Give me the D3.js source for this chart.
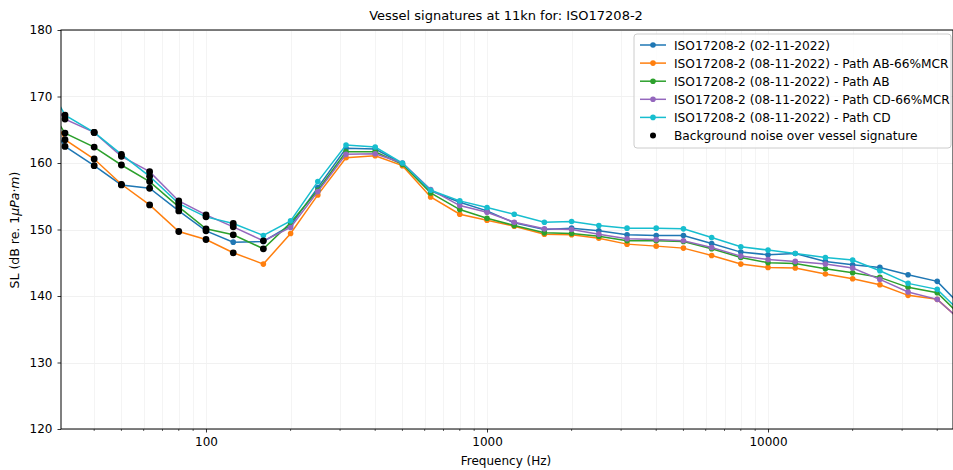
<!DOCTYPE html>
<html>
<head>
<meta charset="utf-8">
<script src="https://cdn.jsdelivr.net/npm/d3@7"></script>
<style>
  body { margin: 0; background: #fff; }
  svg { font-family: "DejaVu Sans", sans-serif; }
</style>
</head>
<body>
<div id="container"></div>
<script>
// third-octave band centres (Hz)
const freqs = [25, 31.5, 40, 50, 63, 80, 100, 125, 160, 200, 250, 315, 400, 500, 630, 800, 1000, 1250, 1600, 2000,
    2500, 3150, 4000, 5000, 6300, 8000, 10000, 12500, 16000, 20000, 25000, 31500, 40000, 50000];

const sl_0211 = [168.5, 162.5, 159.6, 156.7, 156.2, 152.8, 149.8, 148.1, 148.2, 150.6, 156.3, 162.2, 162.1, 159.9, 155.8, 154.1, 152.8, 151.0, 150.0, 150.2,
    149.8, 149.2, 149.1, 149.1, 147.9, 146.6, 146.2, 146.4, 145.2, 144.7, 144.3, 143.2, 142.2, 138.0];
const sl_AB66 = [171.5, 163.5, 160.6, 156.8, 153.7, 149.7, 148.5, 146.5, 144.8, 149.4, 155.2, 160.8, 161.1, 159.6, 154.9, 152.3, 151.4, 150.5, 149.3, 149.2,
    148.7, 147.8, 147.5, 147.2, 146.1, 144.8, 144.3, 144.2, 143.3, 142.6, 141.7, 140.1, 139.5, 135.8];
const sl_AB = [171.0, 164.5, 162.4, 159.7, 157.2, 153.4, 150.1, 149.2, 147.1, 151.0, 155.9, 161.7, 161.7, 159.8, 155.5, 153.0, 151.7, 150.6, 149.5, 149.4,
    149.0, 148.3, 148.3, 148.2, 147.1, 145.8, 145.0, 144.9, 144.1, 143.5, 142.8, 141.3, 140.5, 136.5];
const sl_CD66 = [172.0, 166.6, 164.6, 161.0, 158.7, 154.3, 152.2, 150.4, 148.3, 150.3, 155.7, 161.3, 161.4, 160.0, 156.0, 153.6, 152.6, 151.1, 150.1, 150.0,
    149.3, 148.6, 148.5, 148.3, 147.3, 146.0, 145.5, 145.2, 144.8, 144.2, 142.5, 140.6, 139.5, 135.8];
const sl_CD = [175.0, 167.2, 164.6, 161.3, 158.0, 153.9, 151.9, 150.9, 149.1, 151.3, 157.2, 162.7, 162.4, 160.0, 155.9, 154.3, 153.3, 152.3, 151.1, 151.2,
    150.6, 150.2, 150.2, 150.1, 148.8, 147.4, 146.9, 146.4, 145.8, 145.4, 143.8, 141.9, 141.0, 137.0];

const labels = ["ISO17208-2 (02-11-2022)",
    "ISO17208-2 (08-11-2022) - Path AB-66%MCR",
    "ISO17208-2 (08-11-2022) - Path AB",
    "ISO17208-2 (08-11-2022) - Path CD-66%MCR",
    "ISO17208-2 (08-11-2022) - Path CD"];
const colors = ["#1f77b4", "#ff7f0e", "#2ca02c", "#9467bd", "#17becf"];

// bands where background noise is above the vessel signature
const noise_0211 = [31.5, 40, 50, 63, 80, 100];
const noise_AB66 = [31.5, 40, 50, 63, 80, 100, 125];
const noise_AB = [31.5, 40, 50, 63, 80, 100, 125, 160];
const noise_CD66 = [31.5, 40, 50, 63, 80, 100, 125, 160];
const noise_CD = [31.5, 40, 50, 63, 80, 100, 125];

const yTicks = [120, 130, 140, 150, 160, 170, 180];
const xTicks = [100, 1000, 10000];

const series = [sl_0211, sl_AB66, sl_AB, sl_CD66, sl_CD].map((vals, i) => ({
    label: labels[i],
    color: colors[i],
    points: freqs.map((f, j) => ({ f: f, v: vals[j] }))
}));
const noise = [noise_0211, noise_AB66, noise_AB, noise_CD66, noise_CD];

const W = 953, H = 470;
const L = 61, R = 953, T = 30, B = 429;

const x = d3.scaleLog().domain([30.48, 45150]).range([L, 952]);
const y = d3.scaleLinear().domain([120, 180]).range([B, T]);

const svg = d3.select("#container").append("svg")
    .attr("width", W).attr("height", H);

svg.append("defs").append("clipPath").attr("id", "clip")
    .append("rect").attr("x", L).attr("y", T).attr("width", R - L).attr("height", B - T);

// minor ticks on the log axis
const minorTicks = [];
[10, 100, 1000, 10000].forEach(d => {
    for (let k = 2; k <= 9; k++) {
        const v = d * k;
        if (v > x.domain()[0] && v < x.domain()[1]) minorTicks.push(v);
    }
});

// grid (very faint)
const grid = svg.append("g");
grid.selectAll(".gx").data(minorTicks.concat(xTicks)).enter().append("line")
    .attr("x1", d => Math.round(x(d)) + 0.5).attr("x2", d => Math.round(x(d)) + 0.5)
    .attr("y1", T).attr("y2", B)
    .attr("stroke", "#f4f4f4").attr("stroke-width", 1);
grid.selectAll(".gy").data(yTicks).enter().append("line")
    .attr("x1", L).attr("x2", R)
    .attr("y1", d => Math.round(y(d)) + 0.5).attr("y2", d => Math.round(y(d)) + 0.5)
    .attr("stroke", "#f1f1f1").attr("stroke-width", 1);

// axes
const xAxis = d3.axisBottom(x).tickValues(xTicks).tickFormat(d3.format("d")).tickSizeOuter(0).tickSize(3.5).tickPadding(5);
const gx = svg.append("g").attr("transform", `translate(0,${B})`).call(xAxis);
gx.append("g").selectAll("line").data(minorTicks).enter().append("line")
    .attr("x1", d => x(d)).attr("x2", d => x(d)).attr("y1", 0).attr("y2", 2)
    .attr("stroke", "#000").attr("stroke-width", 0.6);

const yAxis = d3.axisLeft(y).tickValues(yTicks).tickSizeOuter(0).tickSize(3.5).tickPadding(5);
svg.append("g").attr("transform", `translate(${L},0)`).call(yAxis);

svg.selectAll(".tick text").attr("font-size", 12).attr("fill", "#000").attr("font-family", "DejaVu Sans");
svg.selectAll(".tick line").attr("stroke", "#000").attr("stroke-width", 0.8);
svg.selectAll(".domain").remove();

// lines and markers
const line = d3.line().x(d => x(d.f)).y(d => y(d.v));
const plot = svg.append("g").attr("clip-path", "url(#clip)");

series.forEach(s => {
    plot.append("path")
        .attr("d", line(s.points))
        .attr("fill", "none")
        .attr("stroke", s.color)
        .attr("stroke-width", 1.5);
    plot.selectAll(null).data(s.points).enter().append("circle")
        .attr("cx", d => x(d.f)).attr("cy", d => y(d.v))
        .attr("r", 2.8).attr("fill", s.color);
});

series.forEach((s, i) => {
    const pts = s.points.filter(p => noise[i].includes(p.f));
    plot.selectAll(null).data(pts).enter().append("circle")
        .attr("cx", d => x(d.f)).attr("cy", d => y(d.v))
        .attr("r", 3.4).attr("fill", "#000");
});

// frame
svg.append("rect").attr("x", L).attr("y", T).attr("width", R - L).attr("height", B - T)
    .attr("fill", "none").attr("stroke", "#000").attr("stroke-width", 1);

// title and labels
svg.append("text").attr("x", 506).attr("y", 20).attr("text-anchor", "middle")
    .attr("font-size", 13).text("Vessel signatures at 11kn for: ISO17208-2");

svg.append("text").attr("x", 506).attr("y", 465).attr("text-anchor", "middle")
    .attr("font-size", 12).text("Frequency (Hz)");

const yl = svg.append("text").attr("transform", "translate(19,230) rotate(-90)")
    .attr("text-anchor", "middle").attr("font-size", 12.5);
yl.append("tspan").text("SL (dB re. 1");
yl.append("tspan").attr("font-style", "italic").text("μPa");
yl.append("tspan").text("·");
yl.append("tspan").attr("font-style", "italic").text("m");
yl.append("tspan").text(")");

// legend
const lg = svg.append("g").attr("transform", "translate(634,34)");
lg.append("rect").attr("width", 317).attr("height", 114).attr("rx", 3)
    .attr("fill", "rgba(255,255,255,0.8)").attr("stroke", "#cccccc").attr("stroke-width", 1);
const rowH = 18.1;
series.forEach((s, i) => {
    const g = lg.append("g").attr("transform", `translate(0,${11 + i * rowH})`);
    g.append("line").attr("x1", 6).attr("x2", 32).attr("y1", 0).attr("y2", 0)
        .attr("stroke", s.color).attr("stroke-width", 1.5);
    g.append("circle").attr("cx", 19).attr("cy", 0).attr("r", 2.8).attr("fill", s.color);
    g.append("text").attr("x", 40).attr("y", 4.5).attr("font-size", 12.2).text(s.label);
});
const gn = lg.append("g").attr("transform", `translate(0,${11 + 5 * rowH})`);
gn.append("circle").attr("cx", 19).attr("cy", 0).attr("r", 3).attr("fill", "#000");
gn.append("text").attr("x", 40).attr("y", 4.5).attr("font-size", 12.2).text("Background noise over vessel signature");
</script>
</body>
</html>
